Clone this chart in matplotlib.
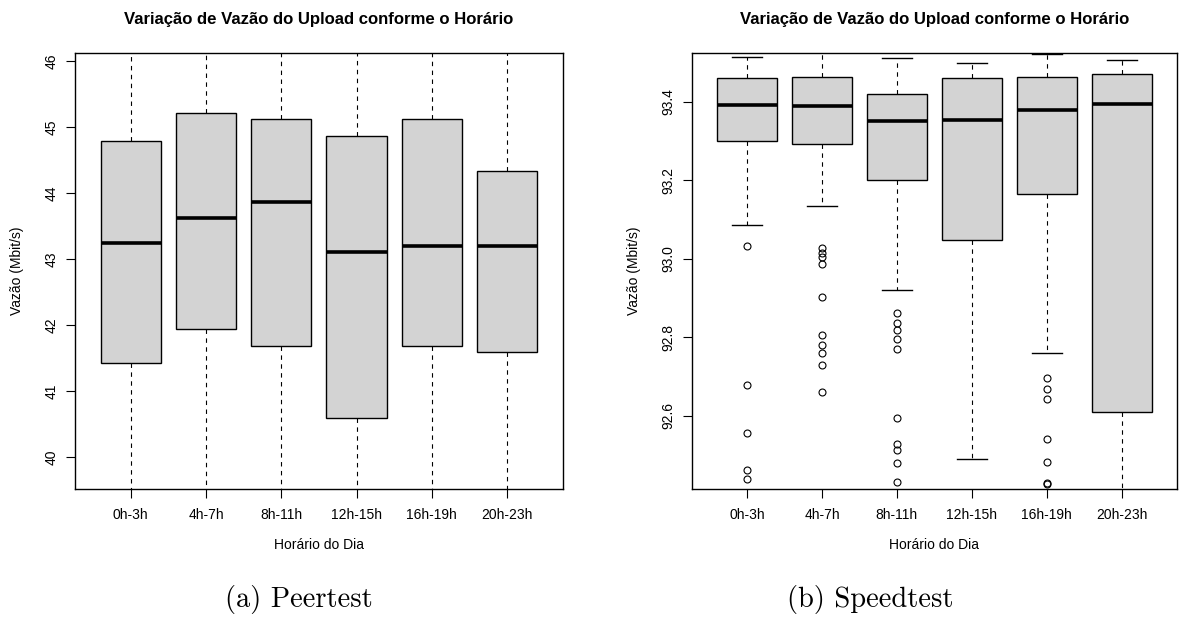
import matplotlib.pyplot as plt

plt.rcParams['font.family'] = ['Liberation Sans', 'DejaVu Sans']

CATEGORIAS = ['0h-3h', '4h-7h', '8h-11h', '12h-15h', '16h-19h', '20h-23h']
TITULO = 'Variação de Vazão do Upload conforme o Horário'

# Peertest: whiskers run past the plot limits in the original
PEER_Q1 = [41.43, 41.94, 41.69, 40.60, 41.69, 41.60]
PEER_MED = [43.24, 43.62, 43.87, 43.11, 43.20, 43.20]
PEER_Q3 = [44.79, 45.21, 45.13, 44.87, 45.13, 44.33]
PEER_WLO = [39.0, 39.0, 39.0, 39.0, 39.0, 39.0]
PEER_WHI = [46.8, 46.8, 46.8, 46.8, 46.8, 46.8]
PEER_YTICKS = [40, 41, 42, 43, 44, 45, 46]

# Speedtest
SPEED_Q1 = [93.301, 93.293, 93.202, 93.047, 93.165, 92.609]
SPEED_MED = [93.392, 93.389, 93.352, 93.353, 93.379, 93.396]
SPEED_Q3 = [93.460, 93.463, 93.420, 93.460, 93.463, 93.472]
SPEED_WLO = [93.085, 93.135, 92.920, 92.490, 92.759, 92.30]
SPEED_WHI = [93.515, 93.560, 93.513, 93.499, 93.521, 93.508]
SPEED_OUT = [
    [93.032, 92.678, 92.557, 92.461, 92.439],
    [93.027, 93.014, 93.004, 92.987, 92.903, 92.806, 92.780, 92.759, 92.729, 92.661],
    [92.862, 92.837, 92.818, 92.795, 92.769, 92.593, 92.527, 92.513, 92.479, 92.431],
    [],
    [92.695, 92.667, 92.643, 92.541, 92.482, 92.428, 92.425],
    [],
]
SPEED_YTICKS = [92.6, 92.8, 93.0, 93.2, 93.4]


def monta_stats(q1, med, q3, wlo, whi, out=None):
    stats = []
    for i in range(len(q1)):
        stats.append({'q1': q1[i], 'med': med[i], 'q3': q3[i],
                      'whislo': wlo[i], 'whishi': whi[i],
                      'fliers': out[i] if out is not None else []})
    return stats


def desenha(ax, stats, ylim, yticks, fmt):
    ax.bxp(stats, positions=range(1, len(stats) + 1), widths=0.8,
           capwidths=0.4, patch_artist=True, showfliers=True,
           boxprops=dict(facecolor='#D3D3D3', edgecolor='black', linewidth=1.0),
           medianprops=dict(color='black', linewidth=2.6, solid_capstyle='butt'),
           whiskerprops=dict(color='black', linewidth=0.8, linestyle=(0, (4, 4))),
           capprops=dict(color='black', linewidth=1.0),
           flierprops=dict(marker='o', markerfacecolor='none', markeredgecolor='black',
                           markersize=5, markeredgewidth=0.8, linestyle='none'))
    ax.set_xlim(0.26, 6.74)
    ax.set_ylim(*ylim)
    ax.set_xticks(range(1, len(CATEGORIAS) + 1))
    ax.set_xticklabels(CATEGORIAS)
    ax.set_yticks(yticks)
    ax.set_yticklabels([fmt.format(v) for v in yticks], rotation=90, va='center')
    ax.tick_params(direction='out', length=6.5, width=0.8, labelsize=10, color='black')
    ax.tick_params(axis='x', pad=7)
    ax.tick_params(axis='y', pad=5)
    for sp in ax.spines.values():
        sp.set_linewidth(1.0)
    ax.set_xlabel('Horário do Dia', fontsize=10)
    ax.xaxis.set_label_coords(0.5, -0.128)
    ax.xaxis.label.set_va('center')
    ax.set_ylabel('Vazão (Mbit/s)', fontsize=10)
    ax.yaxis.set_label_coords(-0.119, 0.5)
    ax.yaxis.label.set_va('center')
    ax.text(0.5, 1.075, TITULO, transform=ax.transAxes, ha='center', va='center',
            fontsize=12.1, fontweight='bold')


fig = plt.figure(figsize=(11.81, 6.26), dpi=100)
ax1 = fig.add_axes([0.0635, 0.2184, 0.4130, 0.6977])
ax2 = fig.add_axes([0.5857, 0.2184, 0.4109, 0.6977])

desenha(ax1, monta_stats(PEER_Q1, PEER_MED, PEER_Q3, PEER_WLO, PEER_WHI),
        (39.515, 46.13), PEER_YTICKS, '{:.0f}')
desenha(ax2, monta_stats(SPEED_Q1, SPEED_MED, SPEED_Q3, SPEED_WLO, SPEED_WHI, SPEED_OUT),
        (92.4125, 93.526), SPEED_YTICKS, '{:.1f}')

# legendas das subfiguras (LaTeX)
fig.text(0.253, 0.042, '(a) Peertest', ha='center', va='center', fontsize=20.5, family='cmr10')
fig.text(0.737, 0.042, '(b) Speedtest', ha='center', va='center', fontsize=20.5, family='cmr10')

fig.savefig('out.png', dpi=100)
